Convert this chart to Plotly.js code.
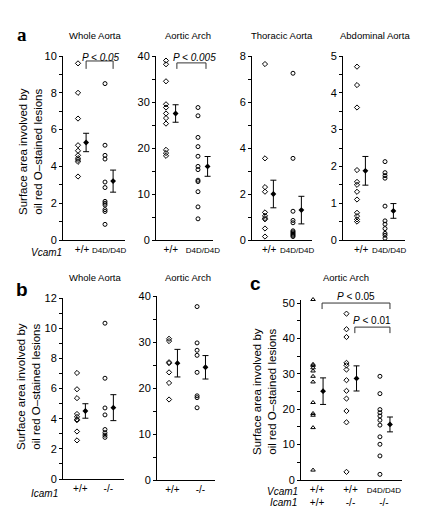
<!DOCTYPE html>
<html><head><meta charset="utf-8">
<script src="https://cdn.plot.ly/plotly-3.0.1.min.js"></script>
<style>html,body{margin:0;padding:0;background:#fff}</style>
</head><body><div id="chart" style="width:429px;height:531px"></div>
<script>
// ---------- DATA ----------
// Panel a (Vcam1 +/+ vs D4D/D4D)
const aWholeWT   = [9.6, 8.0, 6.6, 5.15, 4.85, 4.6, 4.45, 4.35, 4.25, 3.45];
const aWholeD4D  = [8.5, 5.15, 4.6, 4.4, 3.15, 2.85, 2.1, 2.0, 1.9, 1.65, 1.55, 0.85];
const aWholeMean = [5.3, 3.2];
const aWholeErr  = [0.5, 0.6];

const aArchWT    = [39.0, 38.2, 34.5, 29.5, 28.8, 27.5, 26.5, 25.3, 19.6, 18.9, 18.3];
const aArchD4D   = [28.8, 27.0, 22.3, 20.3, 18.2, 16.0, 15.3, 13.0, 12.7, 10.5, 7.2, 4.6];
const aArchMean  = [27.5, 16.0];
const aArchErr   = [1.9, 2.15];

const aThorWT    = [7.65, 3.55, 2.3, 2.1, 1.2, 1.05, 0.95, 0.9, 0.5, 0.15];
const aThorD4D   = [7.25, 3.55, 1.25, 0.85, 0.75, 0.4, 0.35, 0.3, 0.25, 0.2, 0.15];
const aThorMean  = [2.0, 1.3];
const aThorErr   = [0.6, 0.6];

const aAbdWT     = [4.71, 4.21, 3.6, 1.9, 1.58, 1.5, 1.31, 1.1, 0.74, 0.65, 0.56, 0.5];
const aAbdD4D    = [2.13, 1.83, 1.75, 1.68, 0.92, 0.52, 0.43, 0.31, 0.18, 0.13, 0.05];
const aAbdMean   = [1.88, 0.79];
const aAbdErr    = [0.39, 0.2];

// Panel b (Icam1 +/+ vs -/-)
const bWholeWT   = [7.03, 5.95, 5.36, 4.31, 4.12, 3.95, 3.9, 3.15, 2.56];
const bWholeKO   = [10.33, 6.68, 4.71, 4.25, 3.28, 3.07, 2.91, 2.76];
const bWholeMean = [4.51, 4.73];
const bWholeErr  = [0.48, 0.86];

const bArchWT    = [30.7, 30.2, 25.6, 25.4, 23.4, 21.1, 17.5];
const bArchKO    = [37.7, 29.8, 28.2, 27.1, 23.4, 18.3, 17.9, 15.7];
const bArchMean  = [25.4, 24.5];
const bArchErr   = [3.0, 2.55];

// Panel c (Aortic Arch, three genotypes)
const cWT        = [51.0, 32.7, 32.4, 31.7, 30.8, 29.3, 27.7, 21.9, 18.8, 18.3, 14.8, 2.8];
const cIcamKO    = [47.0, 42.6, 40.4, 33.1, 32.4, 31.2, 28.2, 25.2, 23.0, 19.5, 16.3, 2.3];
const cDouble    = [29.3, 24.4, 19.9, 19.0, 18.1, 16.9, 15.5, 12.2, 10.1, 6.8, 1.6];
const cMean      = [25.1, 28.7, 15.7];
const cErr       = [3.75, 3.55, 2.1];

// Labels
const aTitles = ['Whole Aorta', 'Aortic Arch', 'Thoracic Aorta', 'Abdominal Aorta'];
const bTitles = ['Whole Aorta', 'Aortic Arch'];
const cTitle  = 'Aortic Arch';
const aTickText = ['+/+', '<span style="font-size:8px">D4D/D4D</span>'];
const bTickText = ['+/+', '-/-'];
const cTickText = ['+/+<br>+/+', '+/+<br>-/-', '<span style="font-size:8px">D4D/D4D</span><br>-/-'];
const yTitle = 'Surface area involved by<br>oil red O–stained lesions';

// ---------- LAYOUT HELPERS ----------
const W = 429, H = 531;
const FONT = 'Liberation Sans, Arial, Helvetica, sans-serif';
const px = x => x / W, py = y => 1 - y / H;

const subs = [
  {L:63,  R:125, T:56,    B:240, xr:[-0.556,1.741], yr:[0,10], dt:2,  mn:1},
  {L:156, R:213, T:56,    B:240, xr:[-0.3125,1.469], yr:[0,40], dt:10, mn:5},
  {L:252, R:312, T:56,    B:240, xr:[-0.464,1.679], yr:[0,8],  dt:2,  mn:1},
  {L:343, R:405, T:56,    B:240, xr:[-0.5,1.714],   yr:[0,5],  dt:1,  mn:0.5},
  {L:63,  R:124, T:298,   B:479, xr:[-0.5,1.68],    yr:[0,12], dt:2,  mn:1},
  {L:157, R:215, T:296,   B:480, xr:[-0.43,1.64],   yr:[0,40], dt:10, mn:5},
  {L:301, R:402, T:299.5, B:480, xr:[-0.36,2.66],   yr:[0,51], dt:10, mn:5}
];
const tickSets = [
  {v:[0.15,1.15], t:aTickText}, {v:[0.15,1.15], t:aTickText},
  {v:[0.15,1.15], t:aTickText}, {v:[0.15,1.15], t:aTickText},
  {v:[0.12,1.12], t:bTickText}, {v:[0.12,1.12], t:bTickText},
  {v:[0.12,1.12,2.12], t:cTickText}
];

const layout = {
  width: W, height: H, margin:{l:0,r:0,t:0,b:0},
  paper_bgcolor:'#fff', plot_bgcolor:'rgba(0,0,0,0)',
  showlegend:false, font:{family:FONT, color:'#000'},
  annotations:[], shapes:[]
};
subs.forEach((s,i) => {
  const n = i===0 ? '' : (i+1);
  layout['xaxis'+n] = {
    domain:[px(s.L), px(s.R)], range:s.xr, anchor:'y'+n,
    showline:true, linecolor:'#000', linewidth:1, ticks:'', showgrid:false, zeroline:false,
    tickvals:tickSets[i].v, ticktext:tickSets[i].t, tickfont:{size:10, family:FONT}, fixedrange:true
  };
  layout['yaxis'+n] = {
    domain:[py(s.B), py(s.T)], range:s.yr, anchor:'x'+n,
    showline:true, linecolor:'#000', linewidth:1, ticks:'outside', ticklen:3, tickcolor:'#000',
    dtick:s.dt, tick0:0, showgrid:false, zeroline:false, tickfont:{size:11, family:FONT},
    minor:{dtick:s.mn, tick0:0, ticks:'outside', ticklen:3, tickcolor:'#000', showgrid:false},
    fixedrange:true
  };
});

// ---------- TRACES ----------
const traces = [];
const SIZES = {'diamond-open':4, 'circle-open':4, 'triangle-up-open':4};
function pts(ax, vals, gx, sym){
  const n = ax===1 ? '' : ax;
  traces.push({type:'scatter', mode:'markers', x:vals.map(()=>gx), y:vals,
    xaxis:'x'+n, yaxis:'y'+n, cliponaxis:false,
    marker:{symbol:sym, size:SIZES[sym], color:'#000', line:{width:1, color:'#000'}}});
}
function mean(ax, means, errs){
  const n = ax===1 ? '' : ax;
  traces.push({type:'scatter', mode:'markers', x:means.map((_,k)=>k+0.3), y:means,
    xaxis:'x'+n, yaxis:'y'+n, cliponaxis:false,
    marker:{symbol:'diamond', size:4.5, color:'#000'},
    error_y:{type:'data', array:errs, visible:true, color:'#000', thickness:1, width:3}});
}
pts(1, aWholeWT, 0, 'diamond-open'); pts(1, aWholeD4D, 1, 'circle-open'); mean(1, aWholeMean, aWholeErr);
pts(2, aArchWT, 0, 'diamond-open');  pts(2, aArchD4D, 1, 'circle-open');  mean(2, aArchMean, aArchErr);
pts(3, aThorWT, 0, 'diamond-open');  pts(3, aThorD4D, 1, 'circle-open');  mean(3, aThorMean, aThorErr);
pts(4, aAbdWT, 0, 'diamond-open');   pts(4, aAbdD4D, 1, 'circle-open');   mean(4, aAbdMean, aAbdErr);
pts(5, bWholeWT, 0, 'diamond-open'); pts(5, bWholeKO, 1, 'circle-open');  mean(5, bWholeMean, bWholeErr);
pts(6, bArchWT, 0, 'diamond-open');  pts(6, bArchKO, 1, 'circle-open');   mean(6, bArchMean, bArchErr);
pts(7, cWT, 0, 'triangle-up-open');  pts(7, cIcamKO, 1, 'diamond-open');  pts(7, cDouble, 2, 'circle-open');
mean(7, cMean, cErr);

// ---------- ANNOTATIONS ----------
function ann(text, x, y, font, extra){
  layout.annotations.push(Object.assign({xref:'paper', yref:'paper', x:px(x), y:py(y),
    xanchor:'center', yanchor:'middle', showarrow:false, text:text,
    font:Object.assign({family:FONT, size:10, color:'#000'}, font||{})}, extra||{}));
}
// Panel letters
ann('<b>a</b>', 22, 34, {size:19, family:'Liberation Serif, Times New Roman, serif'});
ann('<b>b</b>', 22, 289, {size:19});
ann('<b>c</b>', 255, 283, {size:19});
// Subplot titles
[95, 188, 282, 375].forEach((x,i)=>ann(aTitles[i], x, 35, {size:9.5}));
[95, 188].forEach((x,i)=>ann(bTitles[i], x, 277, {size:9.5}));
ann(cTitle, 346, 277, {size:9.5});
// Y titles
ann(yTitle, 30, 152, {size:11.5}, {textangle:-90});
ann(yTitle, 29, 387, {size:11.5}, {textangle:-90});
ann(yTitle, 264, 392, {size:11.5}, {textangle:-90});
// Gene labels
ann('<i>Vcam1</i>', 46, 252, {size:10});
ann('<i>Icam1</i>', 44, 493, {size:10});
ann('<i>Vcam1</i>', 282, 491, {size:10});
ann('<i>Icam1</i>', 283, 502, {size:10});
// P values
ann('<i>P < 0.05</i>', 101, 57, {size:10});
ann('<i>P < 0.005</i>', 194, 57, {size:10});
ann('<i>P</i> < 0.05', 356, 296, {size:10});
ann('<i>P</i> < 0.01', 372, 320, {size:10});

// Brackets
function bracket(ax, x0, x1, yTop, yEnd){
  const n = ax===1 ? '' : ax;
  layout.shapes.push({type:'path', xref:'x'+n, yref:'y'+n,
    path:`M ${x0},${yEnd} L ${x0},${yTop} L ${x1},${yTop} L ${x1},${yEnd}`,
    line:{color:'#333', width:1}});
}
bracket(1, 0.3, 1.3, 9.73, 9.3);
bracket(2, 0.34, 1.25, 38.5, 37.2);
bracket(7, 0.27, 2.3, 50, 48.3);
bracket(7, 1.25, 2.3, 43.2, 41.5);

Plotly.newPlot('chart', traces, layout, {staticPlot:true, displayModeBar:false});
</script></body></html>
